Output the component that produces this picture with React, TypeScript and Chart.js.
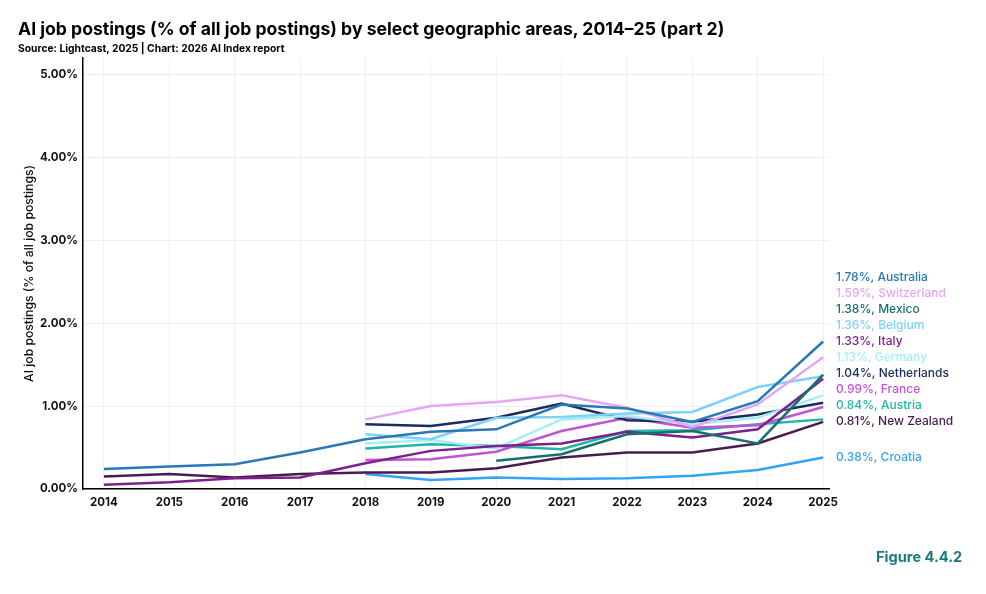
import React, { useEffect, useRef } from "react";
import { Chart, registerables } from "chart.js";

Chart.register(...registerables);

const years = [2014, 2015, 2016, 2017, 2018, 2019, 2020, 2021, 2022, 2023, 2024, 2025];
const yTicks = [0, 1, 2, 3, 4, 5];

const australia = [0.24, 0.27, 0.30, 0.44, 0.60, 0.69, 0.72, 1.02, 0.97, 0.81, 1.06, 1.78];
const switzerland = [null, null, null, null, 0.84, 1.00, 1.05, 1.13, 0.98, 0.75, 1.02, 1.59];
const mexico = [null, null, null, null, null, null, 0.34, 0.42, 0.66, 0.70, 0.55, 1.38];
const belgium = [null, null, null, null, 0.66, 0.60, 0.86, 0.87, 0.91, 0.93, 1.23, 1.36];
const italy = [0.05, 0.08, 0.13, 0.14, 0.31, 0.46, 0.52, 0.55, 0.69, 0.62, 0.72, 1.33];
const germany = [null, null, null, null, 0.55, 0.59, 0.49, 0.84, 0.88, 0.78, 0.86, 1.13];
const netherlands = [null, null, null, null, 0.78, 0.76, 0.86, 1.03, 0.83, 0.81, 0.90, 1.04];
const france = [null, null, null, null, 0.35, 0.36, 0.45, 0.70, 0.86, 0.74, 0.77, 0.99];
const austria = [null, null, null, null, 0.49, 0.54, 0.52, 0.48, 0.70, 0.71, 0.78, 0.84];
const newZealand = [0.15, 0.18, 0.14, 0.18, 0.20, 0.20, 0.25, 0.38, 0.44, 0.44, 0.55, 0.81];
const croatia = [null, null, null, null, 0.18, 0.11, 0.14, 0.12, 0.13, 0.16, 0.23, 0.38];

const seriesNames = [
  "Australia", "Switzerland", "Mexico", "Belgium", "Italy", "Germany",
  "Netherlands", "France", "Austria", "New Zealand", "Croatia",
];
const seriesValues = [
  australia, switzerland, mexico, belgium, italy, germany,
  netherlands, france, austria, newZealand, croatia,
];
const seriesColors = [
  "#2a78b6", "#e4a6f6", "#17706e", "#7dd1fa", "#7e1f8e", "#a6eef4",
  "#1b2b5e", "#c253d6", "#22b6a8", "#4a1c4e", "#31a5f4",
];

const FONT = "Inter, 'DejaVu Sans', sans-serif";

const endLabels = {
  id: "endLabels",
  afterDatasetsDraw(chart: any) {
    const ctx = chart.ctx;
    const yScale = chart.scales.y;
    const items = chart.data.datasets.map((ds: any, i: number) => {
      const pts = ds.data.filter((p: any) => p.y !== null);
      const last = pts[pts.length - 1];
      return {
        y: yScale.getPixelForValue(last.y),
        text: `${last.y.toFixed(2)}%, ${ds.label}`,
        color: ds.borderColor,
        i,
      };
    });
    items.sort((a: any, b: any) => b.y - a.y);
    let prev = Infinity;
    ctx.save();
    ctx.font = `500 12px ${FONT}`;
    ctx.textAlign = "left";
    ctx.textBaseline = "middle";
    for (const it of items) {
      const pos = Math.min(it.y, prev - 16);
      prev = pos;
      ctx.fillStyle = it.color;
      ctx.fillText(it.text, chart.chartArea.right + 7, pos);
    }
    ctx.restore();
  },
};

export default function App() {
  const ref = useRef<HTMLCanvasElement | null>(null);

  useEffect(() => {
    document.body.style.margin = "0";
    if (!ref.current) return;
    const chart = new Chart(ref.current, {
      type: "line",
      data: {
        datasets: seriesNames.map((name, i) => ({
          label: name,
          data: years.map((yr, j) => ({ x: yr, y: seriesValues[i][j] })),
          borderColor: seriesColors[i],
          backgroundColor: seriesColors[i],
          borderWidth: 2.5,
          pointRadius: 0,
          tension: 0,
          spanGaps: false,
        })),
      },
      options: {
        responsive: false,
        animation: false,
        events: [],
        layout: { padding: { top: 58, right: 157, bottom: 75, left: 0 } },
        plugins: {
          legend: { display: false },
          tooltip: { enabled: false },
        },
        scales: {
          x: {
            type: "linear",
            min: 2013.68,
            max: 2025.09,
            afterBuildTicks: (s: any) => {
              s.ticks = years.map((v) => ({ value: v }));
            },
            afterFit: (s: any) => {
              s.height = 30;
            },
            grid: { color: "#efefef", lineWidth: 1, drawTicks: false },
            border: { display: true, color: "#000", width: 1.5 },
            ticks: {
              padding: 7,
              color: "#111",
              font: { family: FONT, size: 11.5, weight: "bold" },
              callback: (v: any) => String(v),
              maxRotation: 0,
              autoSkip: false,
            },
          },
          y: {
            min: 0,
            max: 5.2,
            afterBuildTicks: (s: any) => {
              s.ticks = yTicks.map((v) => ({ value: v }));
            },
            afterFit: (s: any) => {
              s.width = 83;
            },
            grid: { color: "#efefef", lineWidth: 1, drawTicks: false },
            border: { display: true, color: "#000", width: 1.5 },
            ticks: {
              padding: 5,
              color: "#111",
              font: { family: FONT, size: 11.5, weight: "bold" },
              callback: (v: any) => `${Number(v).toFixed(2)}%`,
            },
            title: {
              display: true,
              text: "AI job postings (% of all job postings)",
              color: "#111",
              font: { family: FONT, size: 12.2, weight: 500 },
              padding: { top: 22, bottom: 0 },
            },
          },
        },
      },
      plugins: [endLabels],
    });
    return () => chart.destroy();
  }, []);

  return (
    <div style={{ position: "relative", width: 986, height: 594, background: "#fff", fontFamily: FONT }}>
      <canvas ref={ref} width={986} height={594} style={{ position: "absolute", left: 0, top: 0 }} />
      <div style={{ position: "absolute", left: 18, top: 19, fontSize: 17.6, fontWeight: 700, color: "#000", lineHeight: "20px", whiteSpace: "nowrap" }}>
        AI job postings (% of all job postings) by select geographic areas, 2014–25 (part 2)
      </div>
      <div style={{ position: "absolute", left: 18, top: 41, fontSize: 10.3, fontWeight: 700, color: "#000", lineHeight: "14px", whiteSpace: "nowrap" }}>
        Source: Lightcast, 2025 | Chart: 2026 AI Index report
      </div>
      <div style={{ position: "absolute", left: 876, top: 548, fontSize: 14.6, fontWeight: 700, color: "#1a7a80", lineHeight: "18px", whiteSpace: "nowrap" }}>
        Figure 4.4.2
      </div>
    </div>
  );
}
